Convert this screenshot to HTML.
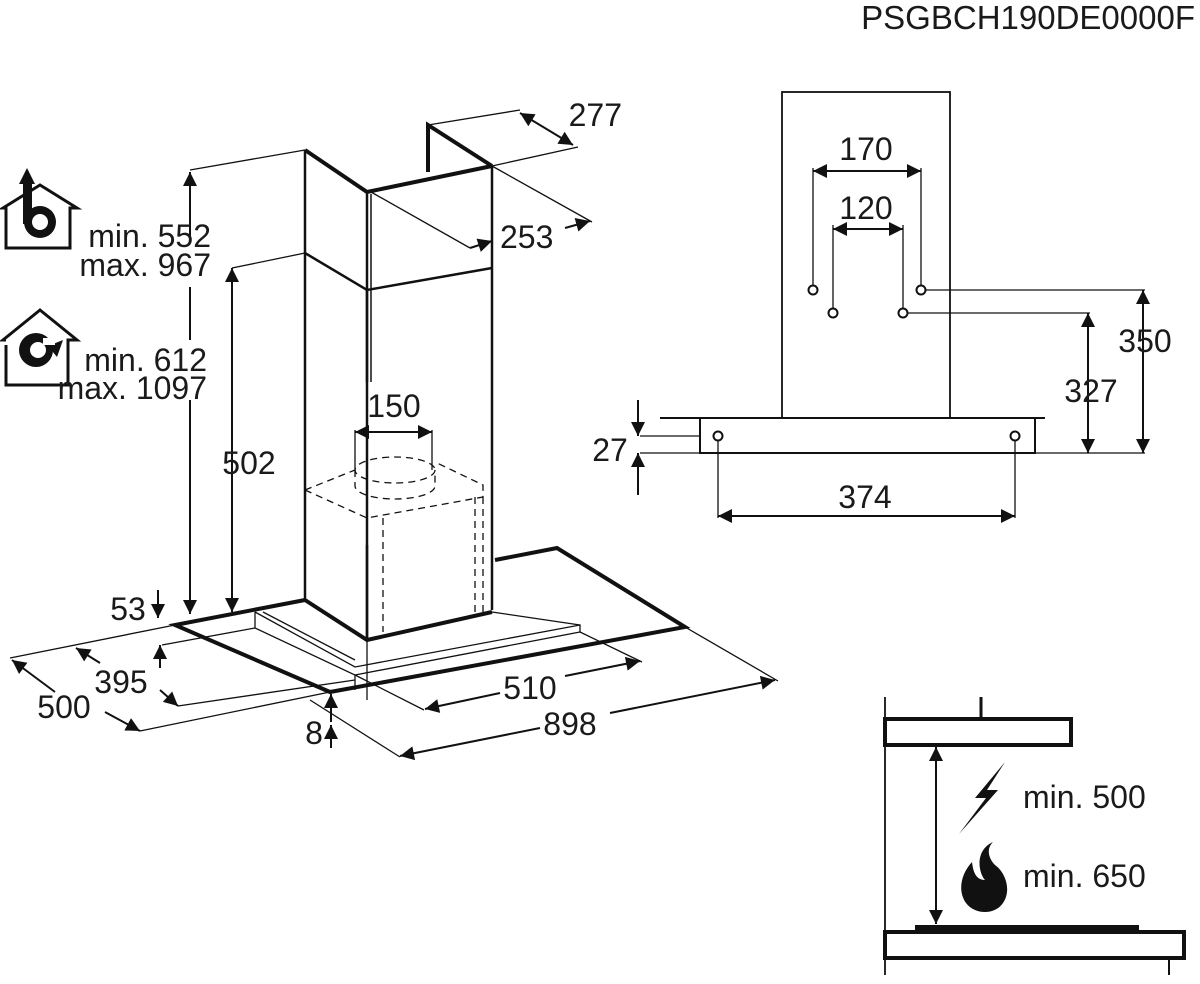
<!DOCTYPE html>
<html><head><meta charset="utf-8"><style>
html,body{margin:0;padding:0;background:#fff;}
svg{display:block;}
text{font-family:"Liberation Sans",sans-serif;font-size:32px;fill:#1a1a1a;}
</style></head><body>
<svg width="1200" height="984" viewBox="0 0 1200 984" xmlns="http://www.w3.org/2000/svg">
<defs>
<marker id="b" viewBox="0 0 10 10" refX="10" refY="5" markerWidth="22" markerHeight="14" orient="auto-start-reverse" markerUnits="userSpaceOnUse"><path d="M0,0 L10,5 L0,10z" fill="#111"/></marker>
</defs>
<text x="1195" y="29" text-anchor="end" style="font-size:33px">PSGBCH190DE0000F</text>

<g stroke="#111" fill="none" stroke-width="1.3">
<path d="M305,150 L367,192 L492,166" stroke-width="4"/>
<path d="M428,172 L428,125 L492,166" stroke-width="4"/>
<line x1="305" y1="150" x2="305" y2="600" stroke-width="2.5"/>
<line x1="367" y1="192" x2="367" y2="382" stroke-width="2.5"/>
<line x1="371" y1="194" x2="371" y2="382" stroke-width="1.5"/>
<line x1="492" y1="166" x2="492" y2="610" stroke-width="2.5"/>
<path d="M305,253 L367,290 L492,268" stroke-width="2.5"/>
<line x1="367" y1="290" x2="367" y2="640" stroke-width="2.5"/>
<line x1="428" y1="125" x2="520" y2="110"/>
<line x1="492" y1="166" x2="578" y2="147"/>
<line x1="520" y1="113" x2="573" y2="145" stroke-width="2" marker-start="url(#b)" marker-end="url(#b)"/>
<line x1="492" y1="166" x2="592" y2="222"/>
<line x1="371" y1="192" x2="470" y2="248"/>
<line x1="470" y1="248" x2="492" y2="241" stroke-width="2" marker-end="url(#b)"/>
<line x1="565" y1="228" x2="590" y2="221" stroke-width="2" marker-end="url(#b)"/>
<line x1="305" y1="150" x2="190" y2="170"/>
<line x1="190" y1="240" x2="190" y2="172" stroke-width="2" marker-end="url(#b)"/>
<line x1="190" y1="287" x2="190" y2="340" stroke-width="2"/>
<line x1="190" y1="400" x2="190" y2="614" stroke-width="2" marker-end="url(#b)"/>
<line x1="305" y1="253" x2="232" y2="268"/>
<line x1="232" y1="268" x2="232" y2="612" stroke-width="2" marker-start="url(#b)" marker-end="url(#b)"/>
<line x1="158" y1="590" x2="158" y2="618" stroke-width="2" marker-end="url(#b)"/>
<path d="M305,600 L175,625 L330,692 L685,627 L557,548 L495,560" stroke-width="4"/>
<path d="M305,600 L367,640 L492,612" stroke-width="4"/>
<path d="M255,612 L255,628 L355,675 L355,690"/>
<path d="M255,612 L355,667 L580,625 L580,632 L355,675"/>
<path d="M263,612 L355,660"/>
<path d="M492,612 L580,625"/>
<line x1="367" y1="640" x2="367" y2="700"/>
<line x1="175" y1="625" x2="10" y2="658"/>
<line x1="330" y1="692" x2="140" y2="731"/>
<line x1="55" y1="692" x2="12" y2="660" stroke-width="2" marker-end="url(#b)"/>
<line x1="105" y1="712" x2="140" y2="731" stroke-width="2" marker-end="url(#b)"/>
<line x1="255" y1="628" x2="162" y2="645"/>
<line x1="355" y1="680" x2="178" y2="706"/>
<line x1="160" y1="668" x2="160" y2="645" stroke-width="2" marker-end="url(#b)"/>
<line x1="160" y1="690" x2="178" y2="706" stroke-width="2" marker-end="url(#b)"/>
<line x1="100" y1="663" x2="76" y2="648" stroke-width="2" marker-end="url(#b)"/>
<line x1="580" y1="632" x2="642" y2="662"/>
<line x1="355" y1="675" x2="424" y2="710"/>
<line x1="500" y1="693" x2="425" y2="709" stroke-width="2" marker-end="url(#b)"/>
<line x1="565" y1="676" x2="640" y2="661" stroke-width="2" marker-end="url(#b)"/>
<line x1="685" y1="627" x2="778" y2="681"/>
<line x1="310" y1="700" x2="400" y2="757"/>
<line x1="540" y1="728" x2="400" y2="756" stroke-width="2" marker-end="url(#b)"/>
<line x1="610" y1="713" x2="775" y2="680" stroke-width="2" marker-end="url(#b)"/>
<line x1="331" y1="722" x2="331" y2="694" stroke-width="2" marker-end="url(#b)"/>
<line x1="331" y1="725" x2="331" y2="748" stroke-width="2" marker-start="url(#b)"/>
<g stroke-dasharray="7,5">
<ellipse cx="395" cy="470" rx="40" ry="13"/>
<path d="M355,470 L355,486 A40,13 0 0 0 435,486 L435,470"/>
<path d="M305,490 L367,518 L483,497 L483,485 L435,462"/>
<path d="M305,490 L355,470"/>
<line x1="383" y1="518" x2="383" y2="632"/>
<line x1="475" y1="497" x2="475" y2="612"/>
<line x1="483" y1="497" x2="483" y2="612"/>
</g>
<line x1="355" y1="430" x2="355" y2="470"/>
<line x1="432" y1="430" x2="432" y2="470"/>
<line x1="355" y1="432" x2="432" y2="432" stroke-width="2" marker-start="url(#b)" marker-end="url(#b)"/>
<line x1="367" y1="545" x2="367" y2="640" stroke-width="2.5"/>

<rect x="782" y="92" width="168" height="326" stroke-width="1.8"/>
<line x1="660" y1="418" x2="1045" y2="418" stroke-width="2"/>
<rect x="700" y="418" width="335" height="35" stroke-width="2"/>
<line x1="640" y1="436" x2="700" y2="436"/>
<line x1="640" y1="453" x2="700" y2="453"/>
<line x1="638" y1="400" x2="638" y2="436" stroke-width="2" marker-end="url(#b)"/>
<line x1="638" y1="495" x2="638" y2="453" stroke-width="2" marker-end="url(#b)"/>
<circle cx="718" cy="436" r="4.5" stroke-width="2"/>
<circle cx="1015" cy="436" r="4.5" stroke-width="2"/>
<line x1="718" y1="441" x2="718" y2="518"/>
<line x1="1015" y1="441" x2="1015" y2="518"/>
<line x1="718" y1="516" x2="1015" y2="516" stroke-width="2" marker-start="url(#b)" marker-end="url(#b)"/>
<circle cx="813" cy="290" r="4.5" stroke-width="2"/>
<circle cx="921" cy="290" r="4.5" stroke-width="2"/>
<circle cx="833" cy="313" r="4.5" stroke-width="2"/>
<circle cx="903" cy="313" r="4.5" stroke-width="2"/>
<line x1="813" y1="168" x2="813" y2="285"/>
<line x1="921" y1="168" x2="921" y2="285"/>
<line x1="813" y1="171" x2="921" y2="171" stroke-width="2" marker-start="url(#b)" marker-end="url(#b)"/>
<line x1="833" y1="225" x2="833" y2="308"/>
<line x1="903" y1="225" x2="903" y2="308"/>
<line x1="833" y1="229" x2="903" y2="229" stroke-width="2" marker-start="url(#b)" marker-end="url(#b)"/>
<line x1="926" y1="290" x2="1145" y2="290"/>
<line x1="908" y1="313" x2="1090" y2="313"/>
<line x1="1035" y1="453" x2="1145" y2="453"/>
<line x1="1143" y1="290" x2="1143" y2="453" stroke-width="2" marker-start="url(#b)" marker-end="url(#b)"/>
<line x1="1088" y1="313" x2="1088" y2="453" stroke-width="2" marker-start="url(#b)" marker-end="url(#b)"/>

<line x1="885" y1="697" x2="885" y2="975" stroke-width="1.8"/>
<rect x="885" y="719" width="186" height="26" stroke-width="4"/>
<line x1="981" y1="697" x2="981" y2="719" stroke-width="3"/>
<rect x="885" y="932" width="299" height="26" stroke-width="4"/>
<rect x="915" y="925" width="224" height="7" fill="#111" stroke="none"/>
<line x1="1169" y1="958" x2="1169" y2="975" stroke-width="2"/>
<line x1="936" y1="747" x2="936" y2="924" stroke-width="2" marker-start="url(#b)" marker-end="url(#b)"/>
</g>
<path d="M1005,762 L975,798 L986,798 L959,834 L998,790 L987,790 Z" fill="#111"/>
<path d="M993,842 C975,850 978,872 985,880 C975,880 973,870 972,862 C960,875 958,892 966,903 C975,915 995,915 1003,903 C1012,890 1005,872 995,865 C990,860 985,850 993,842 Z" fill="#111"/>
<g fill="none" stroke="#111" stroke-width="3">
<path d="M6,208 L6,248 L70,248 L70,208 L77,208 L40,185 L3,208 Z"/>
<path d="M6,345 L6,385 L68,385 L68,340 L77,340 L40,310 L3,340 L6,340"/>
</g>
<circle cx="40" cy="222" r="16" fill="#111"/>
<rect x="23" y="182" width="9" height="42" fill="#111"/>
<path d="M27,168 L19,184 L35,184 Z" fill="#111"/>
<circle cx="40" cy="222" r="8" fill="#fff"/>
<circle cx="36" cy="350" r="17" fill="#111"/>
<circle cx="38" cy="350" r="8" fill="#fff"/>
<path d="M48,346 L63,340 L57,357 Z" fill="#111"/>
<rect x="43" y="338" width="12" height="7" fill="#fff"/>

<text x="211" y="247" text-anchor="end">min. 552</text>
<text x="211" y="276" text-anchor="end">max. 967</text>
<text x="207" y="371" text-anchor="end">min. 612</text>
<text x="207" y="399" text-anchor="end">max. 1097</text>
<text x="622" y="126" text-anchor="end">277</text>
<text x="500" y="248">253</text>
<text x="249" y="474" text-anchor="middle">502</text>
<text x="394" y="417" text-anchor="middle">150</text>
<text x="128" y="620" text-anchor="middle">53</text>
<text x="121" y="693" text-anchor="middle">395</text>
<text x="64" y="718" text-anchor="middle">500</text>
<text x="530" y="699" text-anchor="middle">510</text>
<text x="570" y="735" text-anchor="middle">898</text>
<text x="314" y="744" text-anchor="middle">8</text>
<text x="866" y="160" text-anchor="middle">170</text>
<text x="866" y="219" text-anchor="middle">120</text>
<text x="1145" y="352" text-anchor="middle">350</text>
<text x="1091" y="402" text-anchor="middle">327</text>
<text x="610" y="461" text-anchor="middle">27</text>
<text x="865" y="508" text-anchor="middle">374</text>
<text x="1023" y="808">min. 500</text>
<text x="1023" y="887">min. 650</text>
</svg>
</body></html>
